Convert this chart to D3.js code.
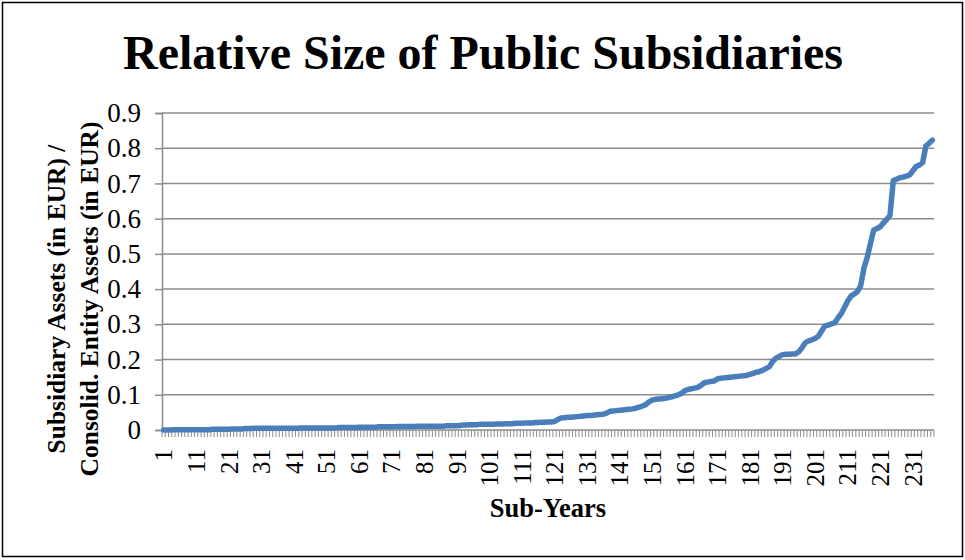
<!DOCTYPE html>
<html lang="en">
<head>
  <meta charset="UTF-8">
  <title>Relative Size of Public Subsidiaries</title>
  <script src="https://d3js.org/d3.v7.min.js"></script>
  <style>
    body { margin: 0; background: #fff; }
    svg text { font-family: "Liberation Serif", "Times New Roman", serif; fill: #000; }
  </style>
</head>
<body>
  <svg width="965" height="560"></svg>
  <script>
    const chartTitle = "Relative Size of Public Subsidiaries";
    const xTitle = "Sub-Years";
    const yTitleLines = ["Subsidiary Assets (in EUR) /", "Consolid. Entity Assets (in EUR)"];
    const yTicks = [0, 0.1, 0.2, 0.3, 0.4, 0.5, 0.6, 0.7, 0.8, 0.9];

    // ratio per sub-year, sorted ascending
    const ratios = [
      0.000, 0.000, 0.000, 0.001, 0.001, 0.001, 0.001, 0.001, 0.001, 0.001,
      0.001, 0.001, 0.001, 0.001, 0.001, 0.002, 0.002, 0.002, 0.002, 0.002,
      0.002, 0.003, 0.003, 0.003, 0.003, 0.004, 0.004, 0.004, 0.005, 0.005,
      0.005, 0.005, 0.005, 0.005, 0.005, 0.005, 0.005, 0.005, 0.005, 0.005,
      0.005, 0.005, 0.006, 0.006, 0.006, 0.006, 0.006, 0.006, 0.006, 0.006,
      0.006, 0.006, 0.006, 0.006, 0.007, 0.007, 0.007, 0.007, 0.007, 0.007,
      0.008, 0.008, 0.008, 0.008, 0.008, 0.008, 0.009, 0.009, 0.009, 0.009,
      0.009, 0.009, 0.010, 0.010, 0.010, 0.010, 0.010, 0.010, 0.011, 0.011,
      0.011, 0.011, 0.011, 0.011, 0.011, 0.011, 0.011, 0.012, 0.012, 0.012,
      0.012, 0.013, 0.014, 0.014, 0.015, 0.015, 0.015, 0.016, 0.016, 0.016,
      0.016, 0.016, 0.017, 0.017, 0.017, 0.018, 0.018, 0.018, 0.019, 0.019,
      0.019, 0.020, 0.020, 0.020, 0.021, 0.021, 0.022, 0.022, 0.023, 0.023,
      0.024, 0.030, 0.034, 0.035, 0.036, 0.036, 0.037, 0.038, 0.039, 0.040,
      0.041, 0.041, 0.042, 0.043, 0.044, 0.045, 0.048, 0.053, 0.054, 0.055,
      0.056, 0.057, 0.058, 0.059, 0.060, 0.062, 0.065, 0.068, 0.072, 0.080,
      0.085, 0.087, 0.088, 0.089, 0.090, 0.092, 0.094, 0.097, 0.100, 0.104,
      0.112, 0.115, 0.117, 0.119, 0.121, 0.127, 0.134, 0.136, 0.138, 0.139,
      0.145, 0.147, 0.148, 0.149, 0.150, 0.151, 0.152, 0.153, 0.154, 0.155,
      0.158, 0.161, 0.164, 0.166, 0.170, 0.175, 0.180, 0.195, 0.204, 0.209,
      0.214, 0.215, 0.215, 0.216, 0.216, 0.222, 0.234, 0.248, 0.253, 0.256,
      0.260, 0.266, 0.281, 0.295, 0.298, 0.301, 0.304, 0.318, 0.330, 0.348,
      0.366, 0.380, 0.386, 0.393, 0.410, 0.460, 0.490, 0.530, 0.568, 0.572,
      0.577, 0.588, 0.598, 0.610, 0.708, 0.712, 0.716, 0.718, 0.721, 0.724,
      0.736, 0.748, 0.752, 0.759, 0.806, 0.814, 0.823
    ];
    const subYears = ratios.map((d, i) => i + 1);
    const xLabels = subYears.filter(d => (d - 1) % 10 === 0);

    const plot = { left: 162, right: 934, top: 113, bottom: 430 };

    const svg = d3.select("svg");

    // outer frame
    svg.append("rect")
      .attr("x", 2.5).attr("y", 2.5)
      .attr("width", 960).attr("height", 554)
      .attr("fill", "#fff")
      .attr("stroke", "#000")
      .attr("stroke-width", 1.5);

    const x = d3.scaleBand().domain(subYears).range([plot.left, plot.right]);
    const y = d3.scaleLinear().domain([0, 0.9]).range([plot.bottom, plot.top]);

    // horizontal gridlines
    svg.append("g")
      .selectAll("line")
      .data(yTicks.filter(d => d > 0))
      .join("line")
      .attr("x1", plot.left).attr("x2", plot.right)
      .attr("y1", d => y(d)).attr("y2", d => y(d))
      .attr("stroke", "#8c8c8c")
      .attr("stroke-width", 1.5);

    // y axis
    const gY = svg.append("g")
      .attr("transform", `translate(${plot.left},0)`)
      .call(d3.axisLeft(y).tickValues(yTicks).tickSize(7).tickPadding(14)
        .tickFormat(d => d === 0 ? "0" : d3.format(".1f")(d)));
    gY.attr("font-size", null).attr("font-family", null);
    gY.select(".domain").attr("stroke", "#8c8c8c").attr("stroke-width", 1.5);
    gY.selectAll(".tick line").attr("stroke", "#8c8c8c").attr("stroke-width", 1.5);
    gY.selectAll(".tick text").style("font-size", "27px");

    // x axis: tick mark at every category boundary
    const bounds = subYears.map(d => x(d)).concat([plot.right]);
    svg.append("g")
      .selectAll("line")
      .data(bounds)
      .join("line")
      .attr("x1", d => d).attr("x2", d => d)
      .attr("y1", plot.bottom).attr("y2", plot.bottom + 7)
      .attr("stroke", "#8c8c8c")
      .attr("stroke-width", 1);
    svg.append("line")
      .attr("x1", plot.left).attr("x2", plot.right)
      .attr("y1", plot.bottom).attr("y2", plot.bottom)
      .attr("stroke", "#8c8c8c")
      .attr("stroke-width", 1.5);

    svg.append("g")
      .selectAll("text")
      .data(xLabels)
      .join("text")
      .attr("transform", d => `translate(${x(d) + x.bandwidth() / 2},449) rotate(-90)`)
      .attr("text-anchor", "end")
      .attr("dy", "0.35em")
      .style("font-size", "25px")
      .text(d => d);

    // data line
    const line = d3.line()
      .x((d, i) => x(subYears[i]) + x.bandwidth() / 2)
      .y(d => y(d));

    svg.append("path")
      .datum(ratios)
      .attr("fill", "none")
      .attr("stroke", "#4a7ebb")
      .attr("stroke-width", 5.5)
      .attr("stroke-linejoin", "round")
      .attr("stroke-linecap", "round")
      .attr("d", line);

    // titles
    svg.append("text")
      .attr("x", 483).attr("y", 69)
      .attr("text-anchor", "middle")
      .attr("font-size", 48)
      .attr("font-weight", "bold")
      .text(chartTitle);

    svg.append("text")
      .attr("x", 548).attr("y", 517)
      .attr("text-anchor", "middle")
      .attr("font-size", 26.5)
      .attr("font-weight", "bold")
      .text(xTitle);

    const yt = svg.append("text")
      .attr("transform", "translate(65,299) rotate(-90)")
      .attr("text-anchor", "middle")
      .attr("font-size", 25.5)
      .attr("font-weight", "bold");
    yTitleLines.forEach((t, i) => {
      yt.append("tspan")
        .attr("x", 0)
        .attr("dy", i === 0 ? 0 : 33)
        .text(t);
    });
  </script>
</body>
</html>
